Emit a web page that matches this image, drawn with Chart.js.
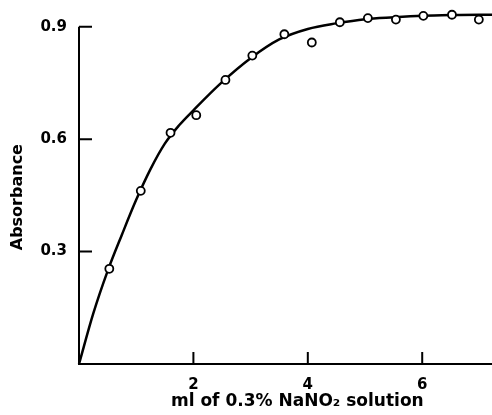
<!DOCTYPE html>
<html><head><meta charset="utf-8">
<script src="https://cdn.jsdelivr.net/npm/chart.js@4"></script>
<style>html,body{margin:0;padding:0;background:#fff;overflow:hidden}</style>
</head><body>
<canvas id="c" width="492" height="415"></canvas>
<script>
// measured points: ml of NaNO2 solution vs absorbance
const volumes     = [0.53, 1.08, 1.60, 2.05, 2.56, 3.03, 3.59, 4.07, 4.56, 5.05, 5.54, 6.02, 6.52, 6.99];
const absorbances = [0.254, 0.462, 0.617, 0.664, 0.758, 0.823, 0.880, 0.858, 0.912, 0.923, 0.919, 0.929, 0.932, 0.919];
// fitted curve
const curveX = [0, 0.25, 0.5, 0.75, 1.0, 1.25, 1.5, 1.75, 2.0, 2.5, 3.0, 3.5, 4.0, 4.5, 5.0, 5.5, 6.0, 6.5, 7.0, 7.22];
const curveY = [0, 0.135, 0.248, 0.345, 0.438, 0.52, 0.588, 0.637, 0.677, 0.752, 0.816, 0.866, 0.894, 0.909, 0.92, 0.925, 0.929, 0.931, 0.932, 0.932];
const xTickValues = [2, 4, 6];
const yTickValues = [0.3, 0.6, 0.9];
const xTitle = '    ml of 0.3% NaNO\u2082 solution';
const yTitle = 'Absorbance    ';

const FONT = "'DejaVu Sans', sans-serif";

const axesPlugin = {
  id: 'axesPlugin',
  beforeDatasetsDraw(chart) {
    const {ctx, chartArea} = chart;
    const xs = chart.scales.x, ys = chart.scales.y;
    const x0 = xs.getPixelForValue(0), y0 = ys.getPixelForValue(0);
    ctx.save();
    ctx.strokeStyle = '#000';
    ctx.lineWidth = 2;
    ctx.lineCap = 'butt';
    ctx.beginPath();
    ctx.moveTo(x0, ys.getPixelForValue(yTickValues[yTickValues.length - 1]));
    ctx.lineTo(x0, y0);
    ctx.lineTo(chartArea.right, y0);
    yTickValues.forEach(v => {
      const p = ys.getPixelForValue(v);
      ctx.moveTo(x0, p); ctx.lineTo(x0 + 13, p);
    });
    xTickValues.forEach(v => {
      const p = xs.getPixelForValue(v);
      ctx.moveTo(p, y0); ctx.lineTo(p, y0 - 12);
    });
    ctx.stroke();
    ctx.restore();
  }
};

new Chart(document.getElementById('c'), {
  type: 'scatter',
  data: {
    datasets: [
      {
        label: 'measured',
        data: volumes.map((v, i) => ({x: v, y: absorbances[i]})),
        pointRadius: 4,
        pointBorderWidth: 1.8,
        pointBackgroundColor: '#fff',
        pointBorderColor: '#000',
        showLine: false,
        clip: false
      },
      {
        type: 'line',
        label: 'curve',
        data: curveX.map((v, i) => ({x: v, y: curveY[i]})),
        borderColor: '#000',
        borderWidth: 2.5,
        pointRadius: 0,
        fill: false,
        cubicInterpolationMode: 'monotone',
        clip: false
      }
    ]
  },
  plugins: [axesPlugin],
  options: {
    responsive: false,
    devicePixelRatio: 1,
    animation: false,
    events: [],
    layout: {autoPadding: false, padding: {top: 8, right: 0, left: 0, bottom: 0}},
    plugins: {legend: {display: false}, tooltip: {enabled: false}},
    scales: {
      x: {
        type: 'linear',
        min: 0, max: 7.22,
        afterBuildTicks: s => { s.ticks = xTickValues.map(v => ({value: v})); },
        afterFit: s => { s.height = 51; s.paddingLeft = 0; s.paddingRight = 0; },
        grid: {display: false, drawTicks: false},
        border: {display: false},
        ticks: {color: '#000', font: {family: FONT, size: 15, weight: 'bold'}, padding: 12, maxRotation: 0,
                callback: v => String(v)},
        title: {display: true, text: xTitle, color: '#000',
                font: {family: FONT, size: 17, weight: 'bold'}, padding: {top: 0, bottom: 3}}
      },
      y: {
        type: 'linear',
        min: 0, max: 0.95,
        afterBuildTicks: s => { s.ticks = yTickValues.map(v => ({value: v})); },
        afterFit: s => { s.width = 79; s.paddingTop = 0; s.paddingBottom = 0; },
        grid: {display: false, drawTicks: false},
        border: {display: false},
        ticks: {color: '#000', font: {family: FONT, size: 15, weight: 'bold'}, padding: 12,
                callback: v => v.toFixed(1)},
        title: {display: true, text: yTitle, color: '#000',
                font: {family: FONT, size: 16, weight: 'bold'}, padding: {top: 8, bottom: 0}}
      }
    }
  }
});
</script>
</body></html>
